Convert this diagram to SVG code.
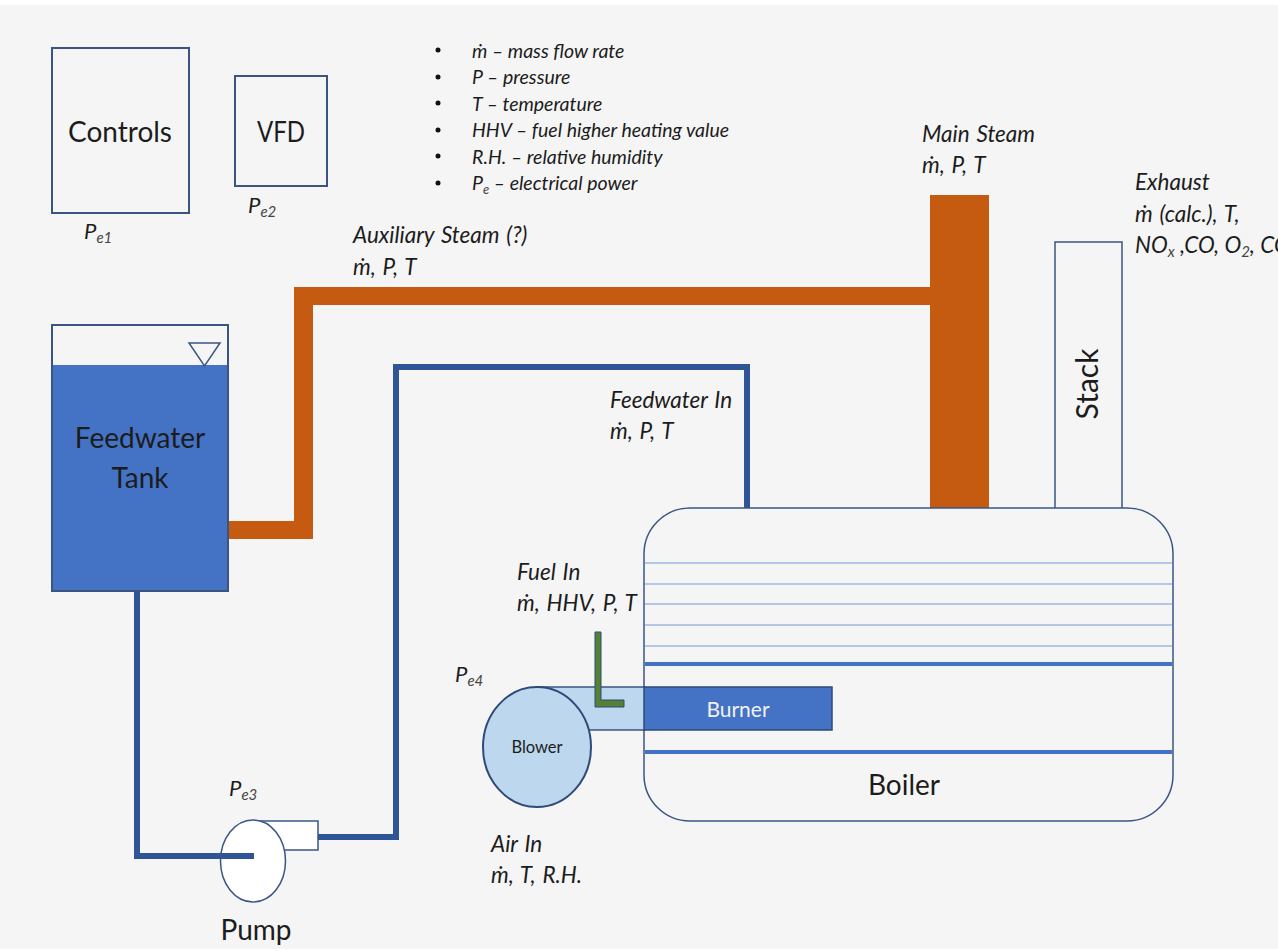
<svg xmlns="http://www.w3.org/2000/svg" width="1278" height="951" viewBox="0 0 1278 951">
<style>
text{font-family:Lato,"Liberation Sans",sans-serif;fill:#1c1c1c}
.i{font-style:italic;font-size:19.500px}
.m{font-style:italic;font-size:22.500px;word-spacing:1.500px}
.p{font-style:italic;font-size:22px}
.l{font-size:28px}
.s{font-size:15px;font-style:italic;fill:#444}
.o{stroke:#3a5582;stroke-width:2;fill:none}
.t{stroke:#3a5582;stroke-width:1.500;fill:none}
.steam{fill:#c55a11}
.water{fill:none;stroke:#2f5597;stroke-width:6}
.tube{stroke:#b4c7e7;stroke-width:2;fill:none}
.tube2{stroke:#4472c4;stroke-width:4;fill:none}
</style>
<rect x="0" y="0" width="1278" height="951" fill="#fff"/>
<rect x="0" y="5" width="1278" height="944" fill="#f5f5f5"/>

<g id="legend">
<g fill="#111"><circle cx="438" cy="50" r="2.500"/><circle cx="438" cy="77" r="2.500"/><circle cx="438" cy="103" r="2.500"/><circle cx="438" cy="130" r="2.500"/><circle cx="438" cy="156" r="2.500"/><circle cx="438" cy="183" r="2.500"/></g>
<text class="i" x="472" y="58">ṁ – mass flow rate</text>
<text class="i" x="472" y="84">P – pressure</text>
<text class="i" x="472" y="111">T – temperature</text>
<text class="i" x="472" y="137">HHV – fuel higher heating value</text>
<text class="i" x="472" y="164">R.H. – relative humidity</text>
<text class="i" x="472" y="190">P<tspan style="font-size:13px;fill:#444" dy="4">e</tspan><tspan dy="-4"> – electrical power</tspan></text>
</g>

<g id="controls">
<rect class="o" x="52" y="48" width="137" height="165"/>
<text class="l" x="120" y="142" text-anchor="middle">Controls</text>
<text class="p" x="84" y="239">P<tspan class="s" dy="4">e1</tspan></text>
</g>
<g id="vfd">
<rect class="o" x="235" y="76" width="92" height="110"/>
<text class="l" x="257" y="142" textLength="48" lengthAdjust="spacingAndGlyphs">VFD</text>
<text class="p" x="248" y="213">P<tspan class="s" dy="4">e2</tspan></text>
</g>

<g id="connectors">
<path class="steam" d="M228 521H294V287H931V305H313V539H228Z"/>
<polyline class="water" points="747,508 747,367 396,367 396,837 318,837"/>
<polyline class="water" points="137,591 137,856 254,856"/>
</g>

<g id="feedwater-tank">
<rect x="52" y="365" width="176" height="226" fill="#4472c4"/>
<rect class="o" x="52" y="325" width="176" height="266"/>
<path class="t" d="M189 343H220L204.500 366Z"/>
<text class="l" x="140" y="448" text-anchor="middle">Feedwater</text>
<text class="l" x="140" y="488" text-anchor="middle">Tank</text>
</g>

<g id="pump">
<rect x="260" y="821" width="58" height="29" fill="#fff" stroke="#3a5582" stroke-width="1.500"/>
<ellipse cx="253" cy="861" rx="32.500" ry="41" fill="#fff" stroke="#3a5582" stroke-width="1.500"/>
<polyline class="water" points="220,856 254,856"/>
<text class="l" x="256" y="940" text-anchor="middle">Pump</text>
<text class="p" x="229" y="796">P<tspan class="s" dy="4">e3</tspan></text>
</g>

<g id="main-steam">
<rect class="steam" x="930" y="195" width="59" height="314"/>
<text class="m" x="922" y="142">Main Steam</text>
<text class="m" x="922" y="173">ṁ, P, T</text>
</g>

<g id="stack">
<rect class="t" x="1055" y="242" width="67" height="267"/>
<text transform="translate(1098 384) rotate(-90)" text-anchor="middle" style="font-size:30px">Stack</text>
</g>

<g id="boiler">
<rect class="t" x="644" y="508" width="529" height="313" rx="46" ry="46" style="fill:#f5f5f5"/>
<path class="tube" d="M645 563H1172M645 584H1172M645 604H1172M645 625H1172M645 646H1172"/>
<path class="tube2" d="M645 664H1172M645 752H1172"/>
<text class="l" x="904" y="795" text-anchor="middle">Boiler</text>
</g>

<g id="blower">
<rect x="537" y="687" width="108" height="43" fill="#bdd7ee" stroke="#3a5582" stroke-width="1.500"/>
<ellipse cx="537" cy="747" rx="54" ry="60" fill="#bdd7ee" stroke="#2f4a78" stroke-width="2"/>
<text x="537" y="753" text-anchor="middle" style="font-size:16.500px">Blower</text>
<text class="p" x="455" y="682">P<tspan class="s" dy="4">e4</tspan></text>
</g>

<g id="burner">
<rect x="644" y="687" width="188" height="43" fill="#4472c4" stroke="#2f4a78" stroke-width="1.500"/>
<text x="738" y="717" text-anchor="middle" style="font-size:21px;fill:#f2f2f2">Burner</text>
</g>

<g id="fuel-pipe">
<path d="M595 632H601V700H624V707H595Z" fill="#548235" stroke="#2f4a78" stroke-width="1"/>
</g>

<g id="labels">
<text class="m" x="353" y="243">Auxiliary Steam (?)</text>
<text class="m" x="353" y="275">ṁ, P, T</text>
<text class="m" x="610" y="408">Feedwater In</text>
<text class="m" x="610" y="439">ṁ, P, T</text>
<text class="m" x="517" y="580">Fuel In</text>
<text class="m" x="517" y="611">ṁ, HHV, P, T</text>
<text class="m" x="1135" y="190">Exhaust</text>
<text class="m" x="1135" y="222">ṁ (calc.), T,</text>
<text class="m" x="1135" y="253" style="word-spacing:0">NO<tspan class="s" dy="4">x</tspan><tspan dy="-4"> ,CO, O</tspan><tspan class="s" dy="4">2</tspan><tspan dy="-4">, CO</tspan></text>
<text class="m" x="491" y="852">Air In</text>
<text class="m" x="491" y="883">ṁ, T, R.H.</text>
</g>
</svg>
